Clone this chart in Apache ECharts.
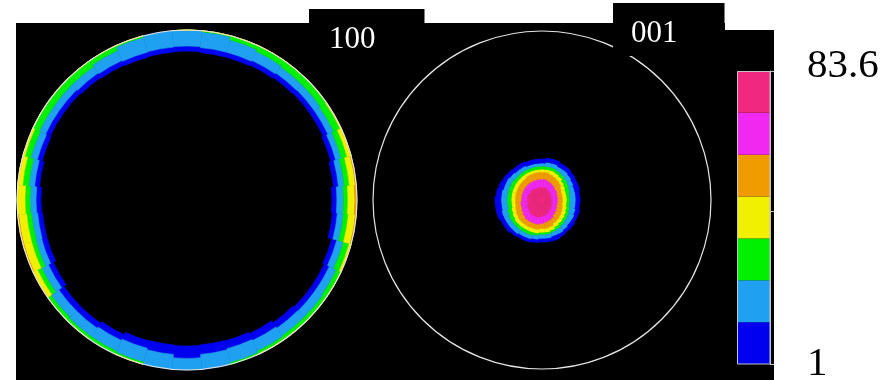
<!DOCTYPE html>
<html>
<head>
<meta charset="utf-8">
<style>
  html, body { margin: 0; padding: 0; background: #fff; }
  #chart { width: 895px; height: 380px; }
</style>
<script src="https://cdn.jsdelivr.net/npm/echarts@6/dist/echarts.min.js"></script>
</head>
<body>
<div id="chart"></div>
<script>
// directions round each pole figure, clockwise from the top (deg)
const directions = ['0', '10', '20', '30', '40', '50', '60', '70', '80', '90', '100', '110',
  '120', '130', '140', '150', '160', '170', '180', '190', '200', '210', '220', '230',
  '240', '250', '260', '270', '280', '290', '300', '310', '320', '330', '340', '350'];

// {100} figure: radius (% of projection radius) where each level starts, ring runs to the edge
const ring100Blue   = [87.6, 87.1, 87.1, 87.6, 88.2, 88.5, 88.5, 87.6, 86.5, 85.3, 85.9, 88.2,
  89.1, 89.1, 88.2, 86.8, 85.9, 85.6, 85.9, 85.6, 85.9, 87.4, 88.5, 88.5,
  86.8, 85.3, 85.3, 85.9, 87.1, 88.2, 88.8, 88.8, 88.2, 87.6, 87.1, 87.4];
const ring100Cyan   = [90.6, 90.0, 90.0, 90.6, 91.2, 91.5, 91.5, 90.6, 89.4, 88.2, 88.8, 91.2,
  92.4, 92.4, 92.1, 91.2, 90.6, 91.2, 93.2, 91.2, 90.3, 91.2, 92.1, 92.1,
  90.0, 88.5, 88.2, 88.8, 90.0, 91.2, 91.8, 91.8, 91.2, 90.6, 90.0, 90.3];
const ring100Green  = [100, 99.4, 97.6, 96.5, 95.9, 95.9, 95.3, 94.1, 92.9, 92.1, 92.4, 95.3,
  97.1, 97.6, 97.6, 98.2, 99.1, 100, 100, 100, 98.8, 98.2, 98.2, 97.6,
  94.4, 92.1, 91.8, 92.4, 93.5, 95.3, 95.9, 95.9, 95.9, 97.1, 99.1, 100];
const ring100Yellow = [100, 100, 100, 100, 100, 100, 99.4, 97.6, 95.9, 94.7, 95.3, 98.8,
  100, 100, 100, 100, 100, 100, 100, 100, 100, 100, 100, 100,
  97.1, 94.7, 94.7, 95.3, 97.1, 98.8, 100, 100, 100, 100, 100, 100];
const ring100Orange = [100, 100, 100, 100, 100, 100, 100, 100, 99.4, 98.8, 99.4, 100,
  100, 100, 100, 100, 100, 100, 100, 100, 100, 100, 100, 100,
  100, 99.4, 99.4, 100, 100, 100, 100, 100, 100, 100, 100, 100];

// {001} figure: radius (% of projection radius) where each level of the central spot ends
const spot001Pink    = [7.7, 7.7, 7.7, 7.1, 6.5, 6.5, 5.9, 5.9, 5.9, 5.9, 5.9, 6.5,
  6.5, 7.1, 7.7, 8.3, 8.9, 9.5, 10.1, 10.7, 10.7, 10.7, 10.7, 10.1,
  9.5, 9.5, 8.9, 8.9, 8.9, 8.9, 8.3, 8.3, 8.3, 7.7, 7.7, 7.7];
const spot001Magenta = [12.4, 12.4, 11.8, 11.2, 10.7, 10.1, 10.1, 9.5, 9.5, 9.5, 9.5, 9.5,
  10.1, 10.7, 11.2, 12.4, 13.0, 13.6, 14.2, 14.8, 14.8, 14.8, 14.8, 14.2,
  13.6, 13.0, 13.0, 12.4, 12.4, 12.4, 12.4, 12.4, 12.4, 12.4, 12.4, 12.4];
const spot001Orange  = [16.6, 16.6, 16.0, 15.4, 14.8, 14.2, 13.0, 12.4, 12.4, 12.4, 12.4, 13.0,
  13.6, 14.2, 14.8, 15.4, 16.6, 17.2, 17.2, 17.8, 17.8, 17.8, 17.8, 17.8,
  17.2, 16.6, 16.0, 16.0, 16.0, 16.0, 16.0, 16.0, 16.0, 16.6, 16.6, 16.6];
const spot001Yellow  = [18.3, 18.3, 18.3, 17.8, 17.2, 16.0, 15.4, 14.8, 14.8, 14.8, 14.8, 15.4,
  16.0, 16.6, 17.2, 17.8, 18.9, 19.5, 19.5, 20.1, 20.1, 20.1, 20.1, 20.1,
  19.5, 18.9, 18.3, 18.3, 18.3, 18.3, 18.3, 18.3, 18.3, 18.3, 18.3, 18.3];
const spot001Green   = [20.1, 20.1, 20.1, 19.5, 18.9, 18.3, 17.8, 17.2, 16.6, 16.6, 16.6, 17.2,
  17.8, 18.3, 18.9, 19.5, 20.1, 20.7, 20.7, 21.3, 21.9, 21.9, 21.9, 21.9,
  21.9, 21.3, 20.7, 20.7, 20.7, 20.7, 20.7, 20.1, 20.1, 20.1, 20.1, 20.1];
const spot001Cyan    = [21.9, 22.5, 22.5, 21.9, 21.9, 21.3, 20.7, 20.1, 20.1, 20.1, 20.1, 20.7,
  21.3, 21.3, 21.9, 22.5, 22.5, 23.1, 23.1, 23.7, 24.3, 24.3, 24.9, 24.9,
  24.9, 24.9, 24.3, 24.3, 24.3, 23.7, 23.7, 23.1, 22.5, 22.5, 21.9, 21.9];
const spot001Blue    = [24.3, 24.9, 24.9, 24.3, 24.3, 23.7, 23.1, 23.1, 22.5, 22.5, 22.5, 23.1,
  23.1, 23.7, 23.7, 24.3, 24.9, 24.9, 24.9, 25.4, 26.0, 26.0, 26.6, 27.2,
  27.2, 27.8, 27.8, 27.8, 27.2, 26.6, 26.0, 25.4, 24.9, 24.9, 24.3, 24.3];

// density levels, lowest first, and the scale's end labels
const levelColors = ['#0000f0', '#20a0f0', '#00f000', '#f0f000', '#f09c00', '#f028f0', '#f0287f'];
const scaleLabels = ['1', '83.6'];
const figureNames = ['100', '001'];

const serif = 'Liberation Serif';
const edge = directions.map(() => 100);

// turns radius boundaries into stacked radial bar segments
function bandSeries(polarIndex, stack, bounds, colors) {
  return bounds.map((b, k) => ({
    type: 'bar',
    coordinateSystem: 'polar',
    polarIndex: polarIndex,
    stack: stack,
    barCategoryGap: '0%',
    silent: true,
    itemStyle: {
      color: colors[k],
      borderColor: colors[k],
      borderWidth: colors[k] === 'transparent' ? 0 : 0.6
    },
    data: b.map((v, i) => +(v - (k ? bounds[k - 1][i] : 0)).toFixed(2))
  }));
}

const chart = echarts.init(document.getElementById('chart'));

const circleAxis = (idx) => ({
  polarIndex: idx,
  type: 'category',
  data: directions,
  startAngle: 95,
  clockwise: true,
  z: 10,
  axisLine: { show: true, lineStyle: { color: '#e4e4e4', width: 1.2 } },
  axisTick: { show: false },
  axisLabel: { show: false },
  splitLine: { show: false }
});

const option = {
  backgroundColor: '#fff',
  animation: false,
  title: [
    {
      text: figureNames[0], left: 309, top: 9, z: 20,
      backgroundColor: '#000', padding: [15, 49, 6, 20],
      textStyle: { color: '#fff', fontFamily: serif, fontSize: 31, fontWeight: 'normal', lineHeight: 31 }
    },
    {
      text: figureNames[1], left: 613, top: 3, z: 20,
      backgroundColor: '#000', padding: [15, 47, 7, 18],
      textStyle: { color: '#fff', fontFamily: serif, fontSize: 31, fontWeight: 'normal', lineHeight: 31 }
    }
  ],
  graphic: [
    {
      type: 'polygon', z: -10, silent: true,
      shape: { points: [[16, 23], [725, 23], [725, 30], [774, 30], [774, 380], [16, 380]] },
      style: { fill: '#000' }
    },
    {
      type: 'rect', z: 100, silent: true,
      shape: { x: 737.5, y: 71.5, width: 32.5, height: 292.5 },
      style: { fill: 'none', stroke: '#c4c4c4', lineWidth: 1 }
    }
  ],
  polar: [
    { center: [187, 200], radius: 170 },
    { center: [542, 200], radius: 169 }
  ],
  angleAxis: [circleAxis(0), circleAxis(1)],
  radiusAxis: [
    { polarIndex: 0, type: 'value', min: 0, max: 100, show: false },
    { polarIndex: 1, type: 'value', min: 0, max: 100, show: false }
  ],
  grid: { left: 737, top: 71, width: 33, height: 293, outerBoundsMode: 'none', containLabel: false },
  xAxis: { type: 'category', data: ['level'], show: false },
  yAxis: [
    {
      type: 'value', min: 0, max: 7, interval: 7, position: 'right',
      axisLine: { show: false },
      axisTick: { show: true, length: 4, lineStyle: { color: '#c4c4c4' } },
      splitLine: { show: false },
      axisLabel: {
        margin: 37, color: '#000', fontFamily: serif, fontSize: 41,
        formatter: (v) => v === 0 ? scaleLabels[0] : (v === 7 ? '{t|' + scaleLabels[1] + '}' : ''),
        rich: { t: { color: '#000', fontFamily: serif, fontSize: 41, padding: [0, 0, 10, 0] } }
      }
    },
    {
      type: 'log', min: 1, max: 83.6, logBase: 10, position: 'right',
      axisLine: { show: true, lineStyle: { color: '#c4c4c4' } },
      axisTick: { show: true, length: 4, lineStyle: { color: '#c4c4c4' } },
      axisLabel: { show: false },
      splitLine: { show: false }
    }
  ],
  series: [
    ...bandSeries(0, 'ring100',
      [ring100Blue, ring100Cyan, ring100Green, ring100Yellow, ring100Orange, edge],
      ['transparent', levelColors[0], levelColors[1], levelColors[2], levelColors[3], levelColors[4]]),
    ...bandSeries(1, 'spot001',
      [spot001Pink, spot001Magenta, spot001Orange, spot001Yellow, spot001Green, spot001Cyan, spot001Blue],
      levelColors.slice().reverse()),
    ...levelColors.map((c) => ({
      type: 'bar', xAxisIndex: 0, yAxisIndex: 0, stack: 'scale', barWidth: '100%', silent: true,
      itemStyle: { color: c },
      data: [1]
    }))
  ]
};

chart.setOption(option);
</script>
</body>
</html>
